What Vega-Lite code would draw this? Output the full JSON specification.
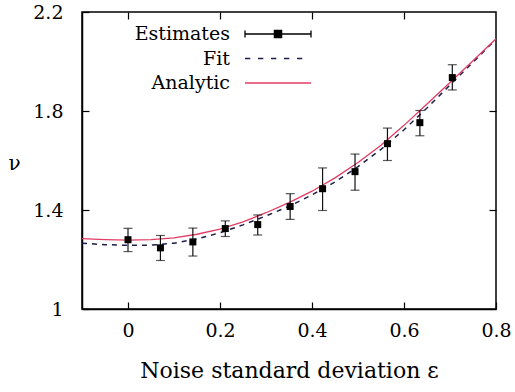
{
  "$schema": "https://vega.github.io/schema/vega-lite/v6.json",
  "width": 414,
  "height": 297,
  "autosize": "none",
  "padding": {"left": 82, "top": 12, "right": 19, "bottom": 83},
  "background": "white",
  "config": {
    "font": "DejaVu Serif",
    "view": {"stroke": "black", "strokeWidth": 1.5},
    "axis": {
      "domainColor": "black", "domainWidth": 1.5,
      "tickColor": "black", "tickWidth": 1.2, "tickSize": -7,
      "labelFont": "DejaVu Serif", "labelFontSize": 19, "labelColor": "black",
      "titleFont": "DejaVu Serif", "titleFontSize": 22, "titleColor": "black", "titleFontWeight": "normal",
      "grid": false, "labelFlush": false, "labelOverlap": false
    },
    "legend": {
      "orient": "none", "legendX": 185, "legendY": 11,
      "labelFont": "DejaVu Serif", "labelFontSize": 19, "labelColor": "black",
      "labelAlign": "right", "labelBaseline": "middle", "labelOffset": -59, "labelLimit": 300,
      "symbolSize": 400, "symbolStrokeWidth": 1.3, "symbolOpacity": 1,
      "rowPadding": 3.5, "padding": 0
    }
  },
  "datasets": {
    "estimates": [
      {"eps": 0.0, "nu": 1.280, "lo": 1.232, "hi": 1.326},
      {"eps": 0.0705, "nu": 1.247, "lo": 1.196, "hi": 1.297},
      {"eps": 0.141, "nu": 1.271, "lo": 1.214, "hi": 1.327},
      {"eps": 0.2115, "nu": 1.325, "lo": 1.293, "hi": 1.356},
      {"eps": 0.282, "nu": 1.341, "lo": 1.299, "hi": 1.380},
      {"eps": 0.3525, "nu": 1.414, "lo": 1.362, "hi": 1.466},
      {"eps": 0.423, "nu": 1.486, "lo": 1.398, "hi": 1.570},
      {"eps": 0.4935, "nu": 1.555, "lo": 1.480, "hi": 1.626},
      {"eps": 0.564, "nu": 1.668, "lo": 1.600, "hi": 1.731},
      {"eps": 0.6345, "nu": 1.753, "lo": 1.700, "hi": 1.802},
      {"eps": 0.705, "nu": 1.935, "lo": 1.885, "hi": 1.987}
    ],
    "fit": [
      {"eps": -0.1, "nu": 1.266}, {"eps": -0.05, "nu": 1.260}, {"eps": 0.0, "nu": 1.257},
      {"eps": 0.05, "nu": 1.258}, {"eps": 0.1, "nu": 1.266}, {"eps": 0.15, "nu": 1.283},
      {"eps": 0.2, "nu": 1.308}, {"eps": 0.25, "nu": 1.340}, {"eps": 0.3, "nu": 1.376},
      {"eps": 0.35, "nu": 1.415}, {"eps": 0.4, "nu": 1.461}, {"eps": 0.45, "nu": 1.513},
      {"eps": 0.5, "nu": 1.575}, {"eps": 0.55, "nu": 1.645}, {"eps": 0.6, "nu": 1.724},
      {"eps": 0.65, "nu": 1.812}, {"eps": 0.7, "nu": 1.905}, {"eps": 0.75, "nu": 1.997},
      {"eps": 0.8, "nu": 2.090}
    ],
    "analytic": [
      {"eps": -0.1, "nu": 1.284}, {"eps": -0.05, "nu": 1.280}, {"eps": 0.0, "nu": 1.278},
      {"eps": 0.05, "nu": 1.280}, {"eps": 0.1, "nu": 1.287}, {"eps": 0.15, "nu": 1.302},
      {"eps": 0.2, "nu": 1.323}, {"eps": 0.25, "nu": 1.352}, {"eps": 0.3, "nu": 1.389},
      {"eps": 0.35, "nu": 1.430}, {"eps": 0.4, "nu": 1.476}, {"eps": 0.45, "nu": 1.530},
      {"eps": 0.5, "nu": 1.592}, {"eps": 0.55, "nu": 1.662}, {"eps": 0.6, "nu": 1.742},
      {"eps": 0.65, "nu": 1.828}, {"eps": 0.7, "nu": 1.915}, {"eps": 0.75, "nu": 2.003},
      {"eps": 0.8, "nu": 2.092}
    ],
    "legend": [{"series": "Estimates"}]
  },
  "layer": [
    {
      "data": {"name": "fit"},
      "mark": {"type": "line", "color": "#1e1e48", "strokeWidth": 1.5, "strokeDash": [5, 5]},
      "encoding": {
        "x": {"field": "eps", "type": "quantitative",
              "scale": {"domain": [-0.1, 0.8], "nice": false, "zero": false},
              "axis": {"orient": "bottom", "values": [0, 0.2, 0.4, 0.6, 0.8], "format": "~g",
                       "labelPadding": 19, "title": "Noise standard deviation ε", "titleY": 68,
                       "titleBaseline": "alphabetic"}},
        "y": {"field": "nu", "type": "quantitative",
              "scale": {"domain": [1, 2.2], "nice": false, "zero": false},
              "axis": {"orient": "left", "values": [1, 1.4, 1.8, 2.2], "format": "~g",
                       "labelPadding": 26, "title": "ν", "titleAngle": 0, "titleX": -68, "titleY": 151,
                       "titleAlign": "center", "titleBaseline": "middle", "titleFontSize": 20}}
      }
    },
    {
      "data": {"name": "analytic"},
      "mark": {"type": "line", "color": "#e23c64", "strokeWidth": 1.3},
      "encoding": {
        "x": {"field": "eps", "type": "quantitative",
              "axis": {"orient": "top", "values": [0, 0.2, 0.4, 0.6], "labels": false, "title": null, "domain": false}},
        "y": {"field": "nu", "type": "quantitative",
              "axis": {"orient": "right", "values": [1.4, 1.8], "labels": false, "title": null, "domain": false}}
      }
    },
    {
      "data": {"name": "estimates"},
      "mark": {"type": "errorbar", "color": "#111111", "thickness": 1.2, "ticks": {"size": 9, "thickness": 1.2, "color": "#111111"}},
      "encoding": {
        "x": {"field": "eps", "type": "quantitative", "axis": null},
        "y": {"field": "lo", "type": "quantitative", "axis": null, "title": null},
        "y2": {"field": "hi"}
      }
    },
    {
      "data": {"name": "estimates"},
      "mark": {"type": "point", "shape": "square", "filled": true, "color": "black", "size": 49, "opacity": 1},
      "encoding": {
        "x": {"field": "eps", "type": "quantitative", "axis": null},
        "y": {"field": "nu", "type": "quantitative", "axis": null}
      }
    },
    {
      "data": {"name": "legend"},
      "mark": {"type": "point", "opacity": 0},
      "encoding": {
        "fill": {"field": "series", "type": "nominal",
                 "scale": {"domain": ["Estimates", "Fit", "Analytic"], "range": ["#000000", "#1e1e48", "#e23c64"]},
                 "legend": {"title": null}},
        "stroke": {"field": "series", "type": "nominal",
                   "scale": {"domain": ["Estimates", "Fit", "Analytic"], "range": ["#000000", "#1e1e48", "#e23c64"]},
                   "legend": {"title": null}},
        "shape": {"field": "series", "type": "nominal",
                  "scale": {"domain": ["Estimates", "Fit", "Analytic"],
                            "range": [
                              "M-3.3,0H3.3M-3.3,-0.36V0.36M3.3,-0.36V0.36M-0.36,-0.36H0.36V0.36H-0.36Z",
                              "M-3.3,0h0.53M-2.0,0h0.53M-0.7,0h0.53M0.6,0h0.53M1.9,0h0.53",
                              "M-3.3,0H3.3"
                            ]},
                  "legend": {"title": null}}
      }
    }
  ],
  "resolve": {"axis": {"x": "independent", "y": "independent"}}
}
